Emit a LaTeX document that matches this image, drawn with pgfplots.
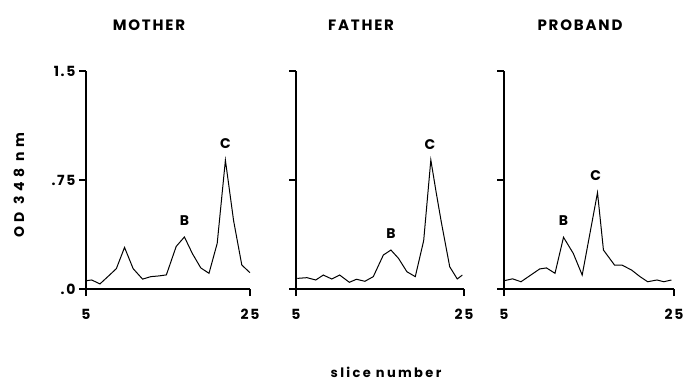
\documentclass[border=0pt]{standalone}
\usepackage{fontspec}
\setmainfont{Poppins}[LetterSpace=12]
\newfontfamily\widefont{Poppins}[LetterSpace=32]
\newfontfamily\midfont{Poppins}[LetterSpace=18]
\usepackage{pgfplots}
\usepackage{pgfplotstable}
\pgfplotsset{compat=1.18}

\pgfplotstableread{
x y
5 0.057
5.7 0.062
6.7 0.035
7.7 0.087
8.7 0.14
9.7 0.286
10.75 0.14
11.9 0.068
12.9 0.085
13.9 0.09
14.8 0.097
16 0.293
17 0.358
18 0.241
19 0.145
20 0.108
21 0.314
22 0.886
23 0.47
24 0.165
25 0.112
}\mother

\pgfplotstableread{
x y
5.15 0.073
6.3 0.078
7.35 0.062
8.25 0.096
9.25 0.069
10.2 0.096
11.35 0.046
12.2 0.067
13.2 0.053
14.2 0.085
15.4 0.234
16.3 0.268
17.2 0.211
18.2 0.119
19.2 0.085
20.2 0.333
21.05 0.888
21.7 0.66
22.3 0.46
23.3 0.153
24.2 0.069
24.8 0.096
}\father

\pgfplotstableread{
x y
5.1 0.058
6 0.07
7 0.05
8 0.09
9.2 0.138
10 0.145
11 0.108
12 0.356
13.15 0.245
14.2 0.096
16 0.663
16.7 0.268
18 0.165
18.85 0.165
20 0.131
21 0.085
21.9 0.05
23 0.062
23.8 0.05
24.7 0.062
}\proband

\tikzset{pk/.style={font=\bfseries\fontsize{14}{14}\selectfont}}
\pgfplotsset{
  panel/.style={
    anchor=south west, scale only axis,
    height=218pt,
    xmin=5, xmax=25, ymin=0, ymax=1.5,
    axis x line=bottom, axis y line=left,
    axis line style={line width=1.7pt, -},
    xtick={5,25}, xticklabels={5,25},
    ytick={0,0.75,1.5},
    tick align=outside, major tick length=7pt,
    tick style={line width=1.3pt, black},
    /pgf/number format/assume math mode=true,
    ticklabel style={font=\bfseries\fontsize{14}{14}\selectfont},
    xticklabel style={yshift=-10pt},
    title style={anchor=base, yshift=35pt, font=\bfseries\fontsize{15}{15}\selectfont},
    clip=false,
  },
  curve/.style={black, line width=1pt, no marks},
}

\begin{document}
\begin{tikzpicture}
\path[use as bounding box] (0,0) rectangle (685pt,381pt);

\begin{axis}[panel, at={(86pt,92pt)}, width=164pt,
  yticklabels={.0,.75,1.5},
  title={MOTHER}, title style={at={(0.384,1)}}]
\addplot[curve] table[x=x,y=y] {\mother};
\node[pk] at (axis cs:22,1.0) {C};
\node[pk] at (axis cs:17,0.468) {B};
\end{axis}

\begin{axis}[panel, at={(296pt,92pt)}, width=168pt,
  yticklabels={,,},
  title={FATHER}, title style={at={(0.387,1)}}]
\addplot[curve] table[x=x,y=y] {\father};
\node[pk] at (axis cs:20.95,0.996) {C};
\node[pk] at (axis cs:16.3,0.383) {B};
\end{axis}

\begin{axis}[panel, at={(504pt,92pt)}, width=170pt,
  yticklabels={,,},
  title={PROBAND}, title style={at={(0.447,1)}}]
\addplot[curve] table[x=x,y=y] {\proband};
\node[pk] at (axis cs:15.8,0.778) {C};
\node[pk] at (axis cs:12.0,0.47) {B};
\end{axis}

\node[rotate=90, font=\widefont\bfseries\fontsize{14}{14}\selectfont] at (19pt,196pt) {OD 348 nm};
\node[anchor=base, font=\midfont\bfseries\fontsize{13}{13}\selectfont] at (386pt,4pt) {slice number};
\end{tikzpicture}
\end{document}
